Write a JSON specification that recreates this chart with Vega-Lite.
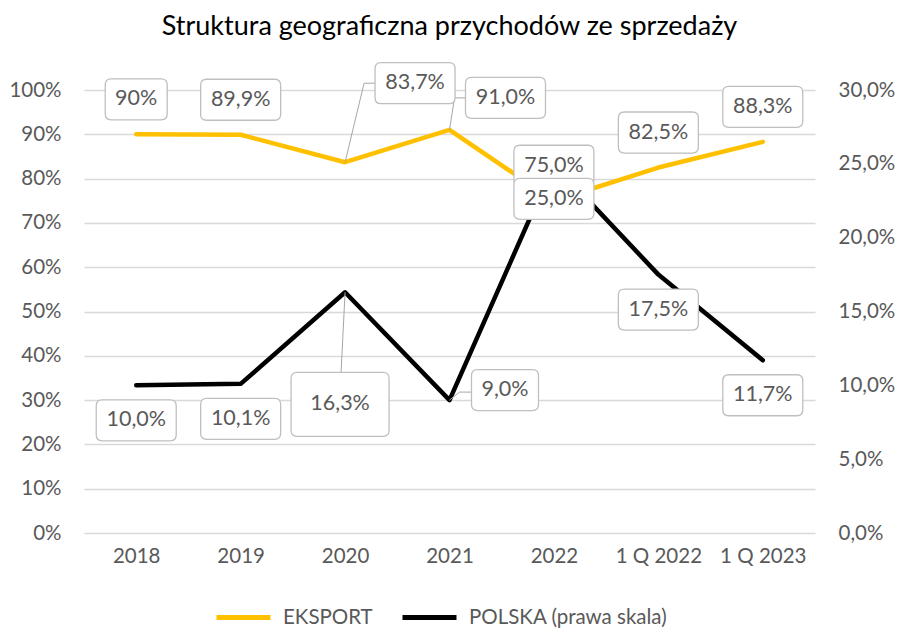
{
  "$schema": "https://vega.github.io/schema/vega-lite/v6.json",
  "width": 731,
  "height": 443,
  "autosize": {"type": "none"},
  "padding": {"left": 84, "top": 90, "right": 86, "bottom": 95},
  "background": "white",
  "title": {"text": "Struktura geograficzna przychodów ze sprzedaży", "font": "Lato", "fontSize": 27, "fontWeight": "normal", "color": "#000000", "anchor": "middle", "frame": "group", "offset": 19},
  "data": {"values": [
    {"cat": "2018", "series": "EKSPORT", "value": 0.90, "label": "90%"},
    {"cat": "2019", "series": "EKSPORT", "value": 0.899, "label": "89,9%"},
    {"cat": "2020", "series": "EKSPORT", "value": 0.837, "label": "83,7%"},
    {"cat": "2021", "series": "EKSPORT", "value": 0.91, "label": "91,0%"},
    {"cat": "2022", "series": "EKSPORT", "value": 0.75, "label": "75,0%"},
    {"cat": "1 Q 2022", "series": "EKSPORT", "value": 0.825, "label": "82,5%"},
    {"cat": "1 Q 2023", "series": "EKSPORT", "value": 0.883, "label": "88,3%"},
    {"cat": "2018", "series": "POLSKA (prawa skala)", "value": 0.10, "label": "10,0%"},
    {"cat": "2019", "series": "POLSKA (prawa skala)", "value": 0.101, "label": "10,1%"},
    {"cat": "2020", "series": "POLSKA (prawa skala)", "value": 0.163, "label": "16,3%"},
    {"cat": "2021", "series": "POLSKA (prawa skala)", "value": 0.09, "label": "9,0%"},
    {"cat": "2022", "series": "POLSKA (prawa skala)", "value": 0.25, "label": "25,0%"},
    {"cat": "1 Q 2022", "series": "POLSKA (prawa skala)", "value": 0.175, "label": "17,5%"},
    {"cat": "1 Q 2023", "series": "POLSKA (prawa skala)", "value": 0.117, "label": "11,7%"}
  ]},
  "encoding": {
    "x": {"field": "cat", "type": "ordinal", "sort": null, "scale": {"type": "point", "padding": 0.5},
      "axis": {"title": null, "domain": false, "ticks": false, "grid": false, "labelAngle": 0, "labelFont": "Lato", "labelFontSize": 20.5, "labelColor": "#595959", "labelPadding": 13}}
  },
  "layer": [
    {
      "transform": [{"filter": "datum.series === 'EKSPORT'"}],
      "mark": {"type": "line", "strokeWidth": 4.5, "strokeCap": "round", "strokeJoin": "round"},
      "encoding": {
        "y": {"field": "value", "type": "quantitative", "scale": {"domain": [0, 1], "nice": false},
          "axis": {"orient": "left", "values": [0, 0.1, 0.2, 0.3, 0.4, 0.5, 0.6, 0.7, 0.8, 0.9, 1], "format": ".0%", "grid": true, "gridColor": "#D9D9D9", "gridWidth": 1.3, "domain": false, "ticks": false, "labelFont": "Lato", "labelFontSize": 20.5, "labelColor": "#595959", "labelPadding": 23, "title": null}},
        "color": {"field": "series", "type": "nominal", "scale": {"domain": ["EKSPORT", "POLSKA (prawa skala)"], "range": ["#FFC000", "#000000"]},
          "legend": {"orient": "none", "legendX": 130, "legendY": 498, "direction": "horizontal", "title": null, "symbolType": "stroke", "symbolSize": 2916, "symbolStrokeWidth": 5, "labelFont": "Lato", "labelFontSize": 20.5, "labelColor": "#595959", "labelLimit": 400, "columnPadding": 19, "labelOffset": 10}}
      }
    },
    {
      "transform": [{"filter": "datum.series !== 'EKSPORT'"}],
      "mark": {"type": "line", "strokeWidth": 4.5, "strokeCap": "round", "strokeJoin": "round"},
      "encoding": {
        "y": {"field": "value", "type": "quantitative", "scale": {"domain": [0, 0.3], "nice": false},
          "axis": {"orient": "right", "values": [0, 0.05, 0.1, 0.15, 0.2, 0.25, 0.3], "labelExpr": "replace(format(datum.value, '.1%'), '.', ',')", "grid": false, "domain": false, "ticks": false, "labelFont": "Lato", "labelFontSize": 20.5, "labelColor": "#595959", "labelPadding": 23, "title": null}},
        "color": {"field": "series", "type": "nominal", "scale": {"domain": ["EKSPORT", "POLSKA (prawa skala)"], "range": ["#FFC000", "#000000"]}}
      }
    },
    {
      "transform": [{"filter": "datum.series === 'EKSPORT' && datum.cat === '2020'"}],
      "mark": {"type": "point", "shape": "M 0 0 L 19 -79 L 31 -79", "size": 4, "filled": false, "stroke": "#A6A6A6", "strokeWidth": 1, "opacity": 1},
      "encoding": {"y": {"field": "value", "type": "quantitative", "scale": {"domain": [0, 1], "nice": false}, "axis": null}}
    },
    {
      "transform": [{"filter": "datum.series === 'EKSPORT' && datum.cat === '2021'"}],
      "mark": {"type": "point", "shape": "M 0 0 L 5 -32 L 16 -32", "size": 4, "filled": false, "stroke": "#A6A6A6", "strokeWidth": 1, "opacity": 1},
      "encoding": {"y": {"field": "value", "type": "quantitative", "scale": {"domain": [0, 1], "nice": false}, "axis": null}}
    },
    {
      "transform": [{"filter": "datum.series !== 'EKSPORT' && datum.cat === '2020'"}],
      "mark": {"type": "point", "shape": "M 0 0 L -4 80", "size": 4, "filled": false, "stroke": "#A6A6A6", "strokeWidth": 1, "opacity": 1},
      "encoding": {"y": {"field": "value", "type": "quantitative", "scale": {"domain": [0, 0.3], "nice": false}, "axis": null}}
    },
    {
      "transform": [{"filter": "datum.series !== 'EKSPORT' && datum.cat === '2021'"}],
      "mark": {"type": "point", "shape": "M 0 0 L 10 -8 L 22 -8", "size": 4, "filled": false, "stroke": "#A6A6A6", "strokeWidth": 1, "opacity": 1},
      "encoding": {"y": {"field": "value", "type": "quantitative", "scale": {"domain": [0, 0.3], "nice": false}, "axis": null}}
    },
    {
      "transform": [{"filter": "datum.series === 'EKSPORT' && datum.cat !== '2018' && datum.cat !== '2020' && datum.cat !== '2021'"}],
      "mark": {"type": "point", "shape": "M -34 -20.5 L 34 -20.5 Q 40 -20.5 40 -14.5 L 40 14.5 Q 40 20.5 34 20.5 L -34 20.5 Q -40 20.5 -40 14.5 L -40 -14.5 Q -40 -20.5 -34 -20.5 Z", "size": 4, "filled": true, "fill": "#FFFFFF", "stroke": "#BFBFBF", "strokeWidth": 1.3, "opacity": 1, "yOffset": -35},
      "encoding": {"y": {"field": "value", "type": "quantitative", "scale": {"domain": [0, 1], "nice": false}, "axis": null}}
    },
    {
      "transform": [{"filter": "datum.series === 'EKSPORT' && datum.cat === '2018'"}],
      "mark": {"type": "point", "shape": "M -25 -20.5 L 25 -20.5 Q 31 -20.5 31 -14.5 L 31 14.5 Q 31 20.5 25 20.5 L -25 20.5 Q -31 20.5 -31 14.5 L -31 -14.5 Q -31 -20.5 -25 -20.5 Z", "size": 4, "filled": true, "fill": "#FFFFFF", "stroke": "#BFBFBF", "strokeWidth": 1.3, "opacity": 1, "yOffset": -35},
      "encoding": {"y": {"field": "value", "type": "quantitative", "scale": {"domain": [0, 1], "nice": false}, "axis": null}}
    },
    {
      "transform": [{"filter": "datum.series === 'EKSPORT' && datum.cat === '2020'"}],
      "mark": {"type": "point", "shape": "M -34 -20.5 L 34 -20.5 Q 40 -20.5 40 -14.5 L 40 14.5 Q 40 20.5 34 20.5 L -34 20.5 Q -40 20.5 -40 14.5 L -40 -14.5 Q -40 -20.5 -34 -20.5 Z", "size": 4, "filled": true, "fill": "#FFFFFF", "stroke": "#BFBFBF", "strokeWidth": 1.3, "opacity": 1, "xOffset": 70, "yOffset": -79},
      "encoding": {"y": {"field": "value", "type": "quantitative", "scale": {"domain": [0, 1], "nice": false}, "axis": null}}
    },
    {
      "transform": [{"filter": "datum.series === 'EKSPORT' && datum.cat === '2021'"}],
      "mark": {"type": "point", "shape": "M -34 -20.5 L 34 -20.5 Q 40 -20.5 40 -14.5 L 40 14.5 Q 40 20.5 34 20.5 L -34 20.5 Q -40 20.5 -40 14.5 L -40 -14.5 Q -40 -20.5 -34 -20.5 Z", "size": 4, "filled": true, "fill": "#FFFFFF", "stroke": "#BFBFBF", "strokeWidth": 1.3, "opacity": 1, "xOffset": 56, "yOffset": -32},
      "encoding": {"y": {"field": "value", "type": "quantitative", "scale": {"domain": [0, 1], "nice": false}, "axis": null}}
    },
    {
      "transform": [{"filter": "datum.series === 'EKSPORT' && datum.cat !== '2020' && datum.cat !== '2021'"}],
      "mark": {"type": "text", "font": "Lato", "fontSize": 21.5, "fill": "#595959", "align": "center", "baseline": "middle", "dy": -35},
      "encoding": {"y": {"field": "value", "type": "quantitative", "scale": {"domain": [0, 1], "nice": false}, "axis": null}, "text": {"field": "label"}}
    },
    {
      "transform": [{"filter": "datum.series === 'EKSPORT' && datum.cat === '2020'"}],
      "mark": {"type": "text", "font": "Lato", "fontSize": 21.5, "fill": "#595959", "align": "center", "baseline": "middle", "dx": 70, "dy": -79},
      "encoding": {"y": {"field": "value", "type": "quantitative", "scale": {"domain": [0, 1], "nice": false}, "axis": null}, "text": {"field": "label"}}
    },
    {
      "transform": [{"filter": "datum.series === 'EKSPORT' && datum.cat === '2021'"}],
      "mark": {"type": "text", "font": "Lato", "fontSize": 21.5, "fill": "#595959", "align": "center", "baseline": "middle", "dx": 56, "dy": -32},
      "encoding": {"y": {"field": "value", "type": "quantitative", "scale": {"domain": [0, 1], "nice": false}, "axis": null}, "text": {"field": "label"}}
    },
    {
      "transform": [{"filter": "datum.series !== 'EKSPORT' && datum.cat !== '2020' && datum.cat !== '2021'"}],
      "mark": {"type": "point", "shape": "M -34 -20.5 L 34 -20.5 Q 40 -20.5 40 -14.5 L 40 14.5 Q 40 20.5 34 20.5 L -34 20.5 Q -40 20.5 -40 14.5 L -40 -14.5 Q -40 -20.5 -34 -20.5 Z", "size": 4, "filled": true, "fill": "#FFFFFF", "stroke": "#BFBFBF", "strokeWidth": 1.3, "opacity": 1, "yOffset": 35},
      "encoding": {"y": {"field": "value", "type": "quantitative", "scale": {"domain": [0, 0.3], "nice": false}, "axis": null}}
    },
    {
      "transform": [{"filter": "datum.series !== 'EKSPORT' && datum.cat === '2020'"}],
      "mark": {"type": "point", "shape": "M -43 -32 L 43 -32 Q 49 -32 49 -26 L 49 26 Q 49 32 43 32 L -43 32 Q -49 32 -49 26 L -49 -26 Q -49 -32 -43 -32 Z", "size": 4, "filled": true, "fill": "#FFFFFF", "stroke": "#BFBFBF", "strokeWidth": 1.3, "opacity": 1, "xOffset": -5, "yOffset": 112},
      "encoding": {"y": {"field": "value", "type": "quantitative", "scale": {"domain": [0, 0.3], "nice": false}, "axis": null}}
    },
    {
      "transform": [{"filter": "datum.series !== 'EKSPORT' && datum.cat === '2021'"}],
      "mark": {"type": "point", "shape": "M -27.5 -20.5 L 27.5 -20.5 Q 33.5 -20.5 33.5 -14.5 L 33.5 14.5 Q 33.5 20.5 27.5 20.5 L -27.5 20.5 Q -33.5 20.5 -33.5 14.5 L -33.5 -14.5 Q -33.5 -20.5 -27.5 -20.5 Z", "size": 4, "filled": true, "fill": "#FFFFFF", "stroke": "#BFBFBF", "strokeWidth": 1.3, "opacity": 1, "xOffset": 55.5, "yOffset": -10},
      "encoding": {"y": {"field": "value", "type": "quantitative", "scale": {"domain": [0, 0.3], "nice": false}, "axis": null}}
    },
    {
      "transform": [{"filter": "datum.series !== 'EKSPORT' && datum.cat !== '2020' && datum.cat !== '2021'"}],
      "mark": {"type": "text", "font": "Lato", "fontSize": 21.5, "fill": "#595959", "align": "center", "baseline": "middle", "dy": 35},
      "encoding": {"y": {"field": "value", "type": "quantitative", "scale": {"domain": [0, 0.3], "nice": false}, "axis": null}, "text": {"field": "label"}}
    },
    {
      "transform": [{"filter": "datum.series !== 'EKSPORT' && datum.cat === '2020'"}],
      "mark": {"type": "text", "font": "Lato", "fontSize": 21.5, "fill": "#595959", "align": "center", "baseline": "middle", "dx": -5, "dy": 112},
      "encoding": {"y": {"field": "value", "type": "quantitative", "scale": {"domain": [0, 0.3], "nice": false}, "axis": null}, "text": {"field": "label"}}
    },
    {
      "transform": [{"filter": "datum.series !== 'EKSPORT' && datum.cat === '2021'"}],
      "mark": {"type": "text", "font": "Lato", "fontSize": 21.5, "fill": "#595959", "align": "center", "baseline": "middle", "dx": 55.5, "dy": -10},
      "encoding": {"y": {"field": "value", "type": "quantitative", "scale": {"domain": [0, 0.3], "nice": false}, "axis": null}, "text": {"field": "label"}}
    }
  ],
  "resolve": {"scale": {"y": "independent"}},
  "config": {"view": {"stroke": null}, "font": "Lato"}
}
